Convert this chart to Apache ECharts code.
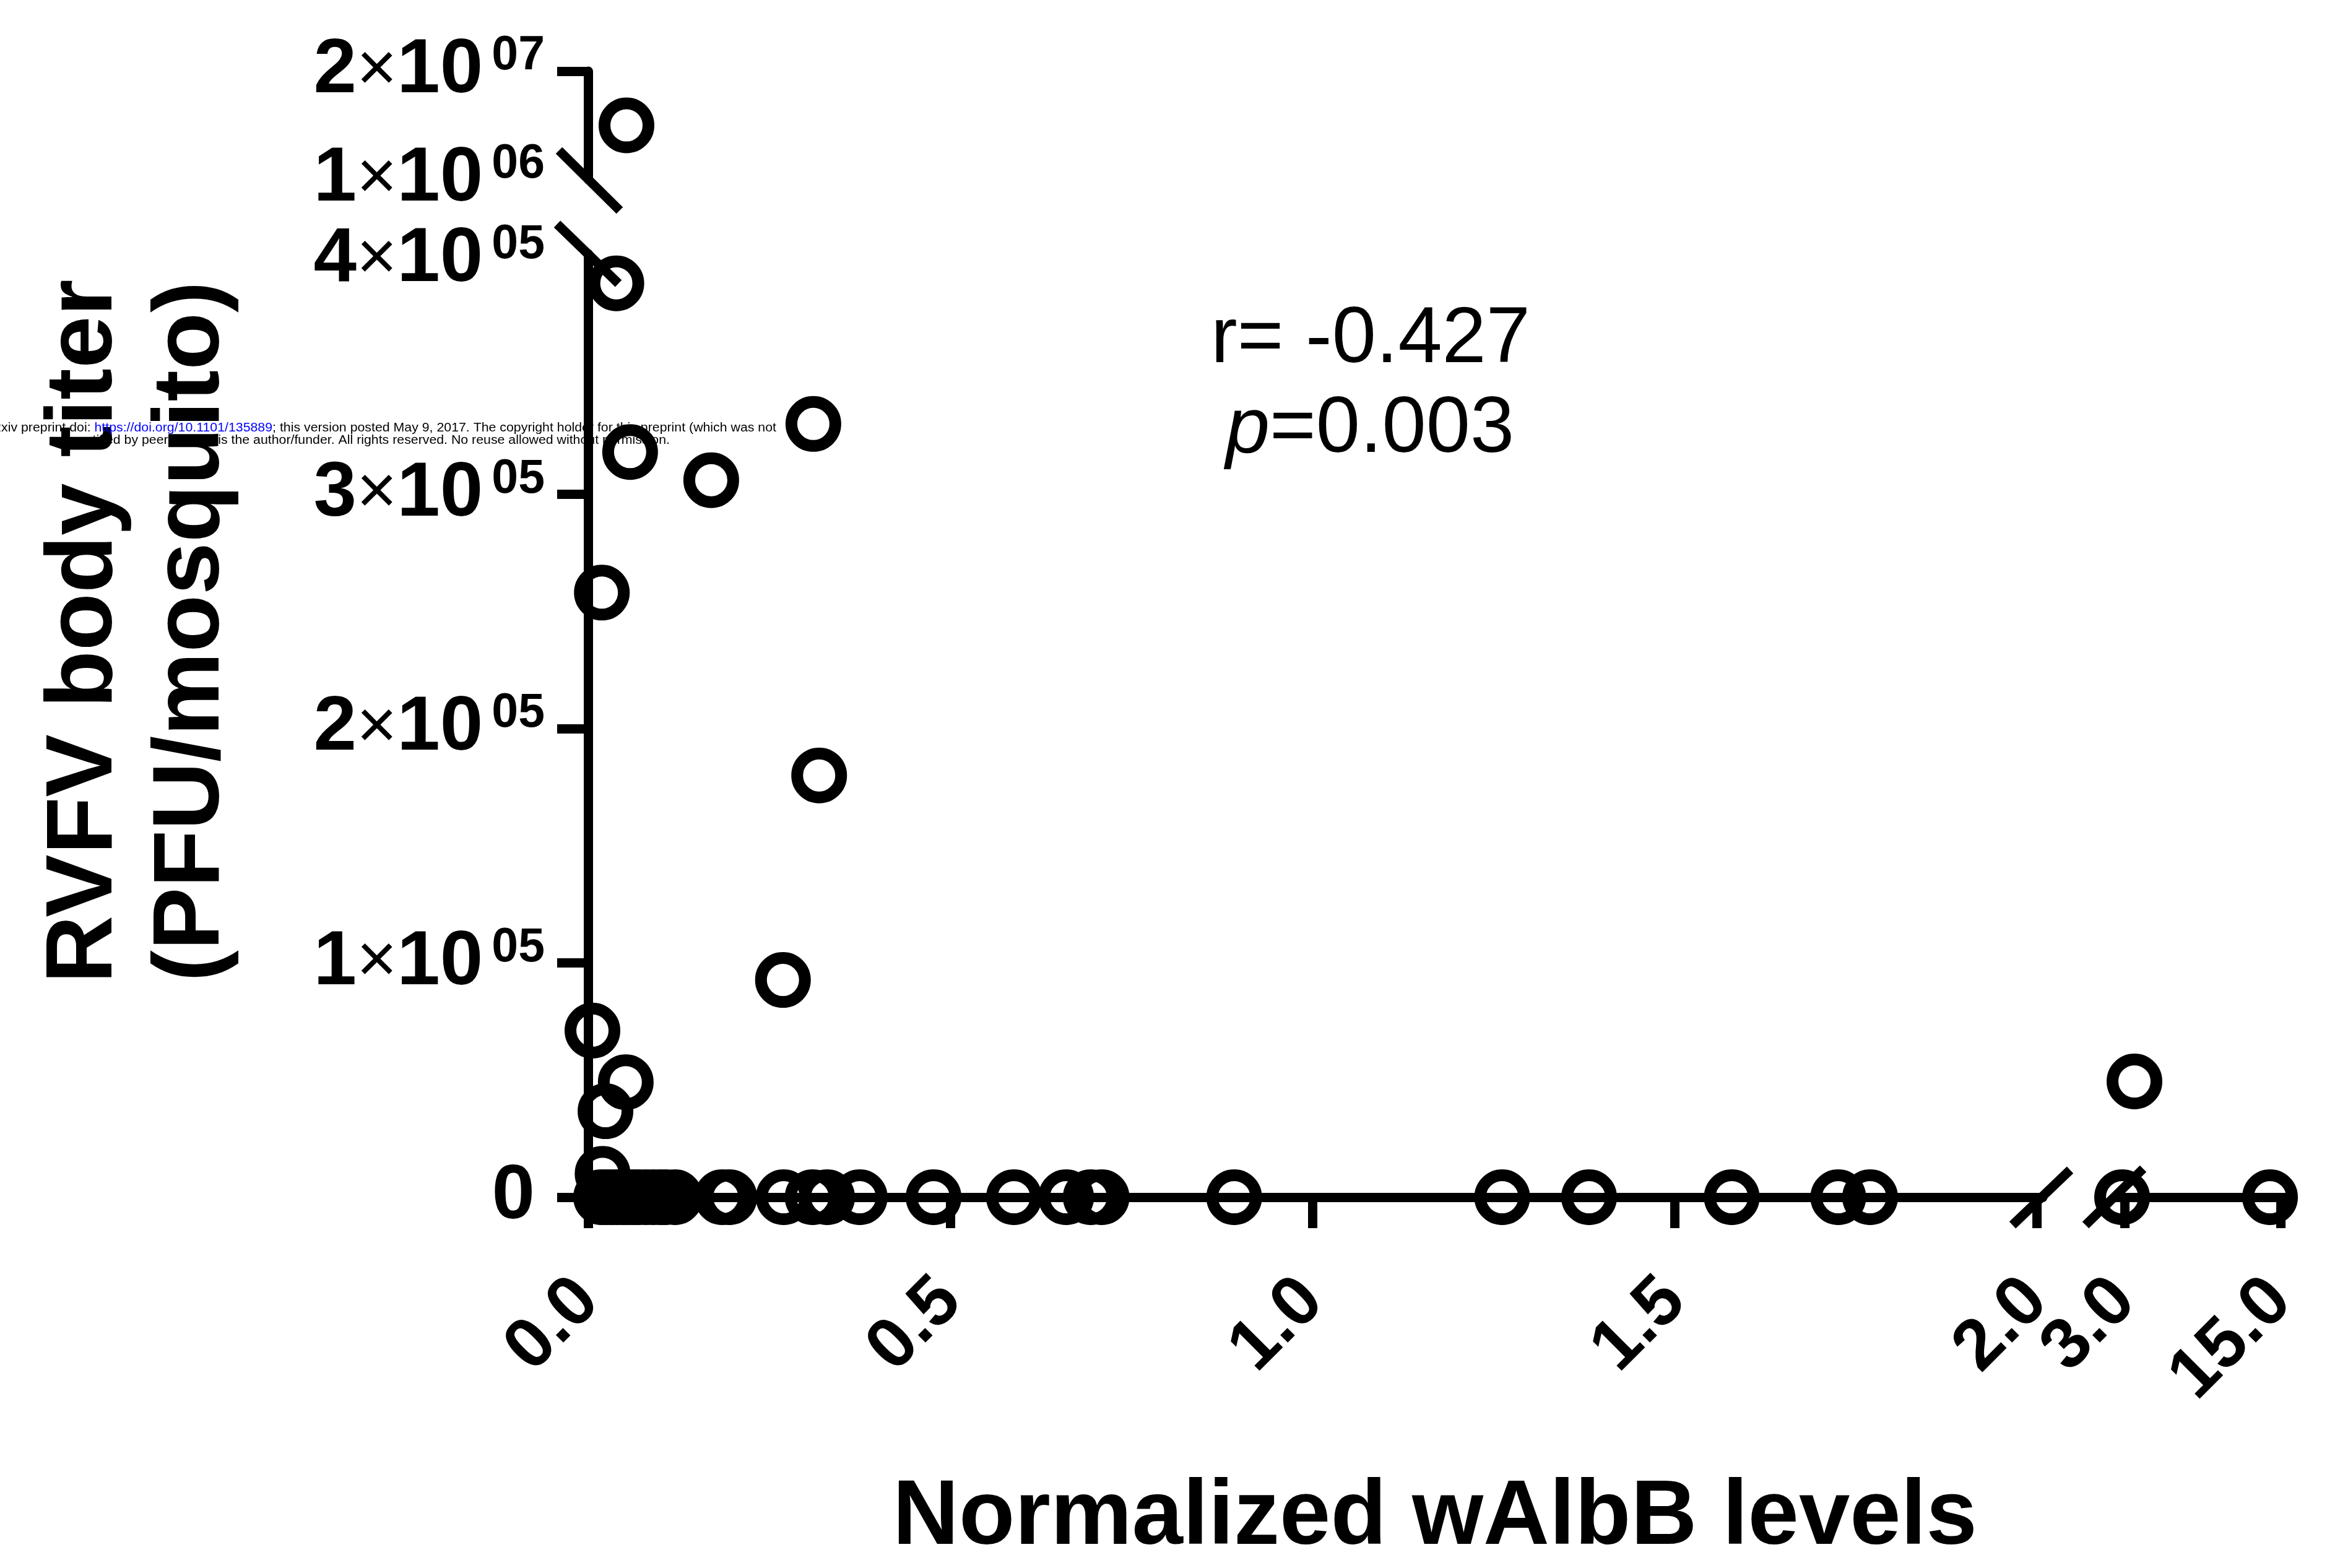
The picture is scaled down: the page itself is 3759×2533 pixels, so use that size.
<!DOCTYPE html>
<html>
<head>
<meta charset="utf-8">
<script src="https://cdn.jsdelivr.net/npm/echarts@6/dist/echarts.min.js"></script>
<style>
html,body{margin:0;padding:0;background:#fff;}
#chart{width:3759px;height:2533px;}
</style>
</head>
<body>
<div id="chart"></div>
<script>
// ---------------- data ----------------
// points at titer 0 (x = normalized wAlbB level)
const zeroX = [0.018, 0.025, 0.033, 0.040, 0.048, 0.055, 0.063, 0.070, 0.080, 0.090, 0.100, 0.107, 0.120,
               0.185, 0.195, 0.270, 0.310, 0.330, 0.375, 0.477, 0.588, 0.660, 0.694, 0.709, 0.892,
               1.262, 1.382, 1.579, 1.726, 1.770];
// non-zero titers, lower segment (x, titer)
const lowX = [0.039, 0.311, 0.058, 0.170, 0.019, 0.319, 0.269, 0.006, 0.052, 0.024, 0.020];
const lowY = [390000, 330000, 318000, 306000, 258000, 180000, 92700, 71100, 49100, 36700, 10000];
// upper segment (x, titer)
const highX = [0.053];
const highY = [10500000];
// right x segment (x, titer)
const rightX = [2.81, 3.76, 14.19];
const rightY = [0, 49400, 0];

// tick values / labels
const xTicksLeft = [0, 0.5, 1.0, 1.5, 2.0];
const xTicksRight = [3.0, 15.0];
const yTicksLow = [0, 100000, 200000, 300000];
const yLabelsLow = [0, 100000, 200000, 300000, 400000];
const yLabelsHigh = [1000000, 20000000];
const yTicksHigh = [20000000];

const xTitle = 'Normalized wAlbB levels';
const yTitle = 'RVFV body titer\n(PFU/mosquito)';
const rText = 'r= -0.427';
const pText = '=0.003';
const wmLine1a = 'bioRxiv preprint doi: ';
const wmLink = 'https://doi.org/10.1101/135889';
const wmLine1b = '; this version posted May 9, 2017. The copyright holder for this preprint (which was not';
const wmLine2 = 'certified by peer review) is the author/funder. All rights reserved. No reuse allowed without permission.';

// ---------------- layout ----------------
const FF = '"Liberation Sans", Arial, Helvetica, sans-serif';
const AX = 15;
const lowData = zeroX.map(x => [x, 0]).concat(lowX.map((x, i) => [x, lowY[i]]));
const highData = highX.map((x, i) => [x, highY[i]]);
const rightData = rightX.map((x, i) => [x, rightY[i]]);

function yFmt(v) {
  if (v === 0) return '{z|0}';
  const e = Math.floor(Math.log10(v) + 1e-9);
  const m = Math.round(v / Math.pow(10, e));
  return '{b|' + m + '}{x|\u00d7}{b|10}{s|' + String(e).padStart(2, '0') + '}';
}
const yRich = {
  b: {fontSize: 125, fontWeight: 'bold', fontFamily: FF, color: '#000', lineHeight: 125},
  x: {fontSize: 112, fontWeight: 'normal', fontFamily: FF, color: '#000', lineHeight: 112},
  s: {fontSize: 77, fontWeight: 'bold', fontFamily: FF, color: '#000', lineHeight: 77, verticalAlign: 'top', padding: [0, 0, 0, 14]},
  z: {fontSize: 125, fontWeight: 'bold', fontFamily: FF, color: '#000', lineHeight: 125, padding: [0, 16, 0, 0]}
};
const lineStyle = {color: '#000', width: AX};

function xAxisCfg(grid, min, max, ticks, show) {
  return {
    type: 'value', gridIndex: grid, min: min, max: max, show: show,
    axisLine: {show: true, onZero: false, lineStyle: lineStyle},
    axisTick: {show: true, customValues: ticks, length: 50, lineStyle: lineStyle},
    axisLabel: {show: true, customValues: ticks, rotate: 45, margin: 150, fontSize: 115, fontWeight: 'bold',
                fontFamily: FF, color: '#000', formatter: v => v.toFixed(1)},
    splitLine: {show: false}
  };
}
function yAxisCfg(grid, min, max, ticks, labels, show) {
  return {
    type: 'value', gridIndex: grid, min: min, max: max, show: show,
    axisLine: {show: true, onZero: false, lineStyle: lineStyle},
    axisTick: {show: true, customValues: ticks, length: 50, lineStyle: lineStyle},
    axisLabel: {show: true, customValues: labels, margin: 70, formatter: yFmt, rich: yRich},
    splitLine: {show: false}
  };
}
const sym = {
  type: 'scatter', symbol: 'circle', symbolSize: 71, clip: false, silent: true,
  itemStyle: {color: 'rgba(0,0,0,0)', borderColor: '#000', borderWidth: 19, opacity: 1}
};

// watermark scale (narrow font emulation)
const mctx = document.createElement('canvas').getContext('2d');
mctx.font = '20px ' + FF;
const wmScale = 962 / mctx.measureText(wmLine2).width;

const chart = echarts.init(document.getElementById('chart'), null, {renderer: 'canvas'});
chart.setOption({
  backgroundColor: '#fff',
  animation: false,
  grid: [
    {left: 950, top: 410, width: 2350, height: 1524},
    {left: 3418, top: 410, width: 277, height: 1524},
    {left: 950, top: 115, width: 2350, height: 175}
  ],
  xAxis: [
    xAxisCfg(0, 0, 2.0085, xTicksLeft, true),
    xAxisCfg(1, 2.333, 15.524, xTicksRight, true),
    xAxisCfg(2, 0, 2.0085, [], false)
  ],
  yAxis: [
    yAxisCfg(0, 0, 402600, yTicksLow, yLabelsLow, true),
    yAxisCfg(1, 0, 402600, [], [], false),
    yAxisCfg(2, 1000000, 20000000, yTicksHigh, yLabelsHigh, true)
  ],
  series: [
    Object.assign({}, sym, {xAxisIndex: 0, yAxisIndex: 0, data: lowData}),
    Object.assign({}, sym, {xAxisIndex: 1, yAxisIndex: 1, data: rightData}),
    Object.assign({}, sym, {xAxisIndex: 2, yAxisIndex: 2, data: highData})
  ],
  graphic: [
    // axis break marks
    {type: 'line', shape: {x1: 903, y1: 243, x2: 1001, y2: 340}, style: {stroke: '#000', lineWidth: AX}, z: 10},
    {type: 'line', shape: {x1: 900, y1: 362, x2: 999, y2: 458}, style: {stroke: '#000', lineWidth: AX}, z: 10},
    {type: 'line', shape: {x1: 3251, y1: 1979, x2: 3344, y2: 1890}, style: {stroke: '#000', lineWidth: AX}, z: 10},
    {type: 'line', shape: {x1: 3369, y1: 1979, x2: 3462, y2: 1888}, style: {stroke: '#000', lineWidth: AX}, z: 10},
    // axis titles
    {type: 'text', x: 2318, y: 2453, style: {text: xTitle, fontSize: 148, fontWeight: 'bold', fontFamily: FF,
      fill: '#000', align: 'center', verticalAlign: 'middle'}},
    {type: 'text', x: 225, y: 1020, rotation: Math.PI / 2, style: {text: yTitle, fontSize: 152, fontWeight: 'bold',
      fontFamily: FF, fill: '#000', align: 'center', verticalAlign: 'middle', lineHeight: 173}},
    // statistics
    {type: 'text', x: 2214, y: 550, style: {text: rText, fontSize: 128, fontFamily: FF, fill: '#000',
      align: 'center', verticalAlign: 'middle'}},
    {type: 'text', x: 2213, y: 695, style: {text: '{i|p}{n|' + pText + '}', align: 'center', verticalAlign: 'middle',
      rich: {i: {fontSize: 128, fontStyle: 'italic', fontFamily: FF, fill: '#000'},
             n: {fontSize: 128, fontFamily: FF, fill: '#000'}}}},
    // watermark
    {type: 'text', x: 1254, y: 691, scaleX: wmScale, z: 20, style: {
      text: '{k|' + wmLine1a + '}{u|' + wmLink + '}{k|' + wmLine1b + '}', align: 'right', verticalAlign: 'middle',
      rich: {k: {fontSize: 20, fontFamily: FF, fill: '#000'}, u: {fontSize: 20, fontFamily: FF, fill: '#0000ff'}}}},
    {type: 'text', x: 1082, y: 711, scaleX: wmScale, z: 20, style: {text: wmLine2, fontSize: 20, fontFamily: FF,
      fill: '#000', align: 'right', verticalAlign: 'middle'}}
  ]
});
</script>
</body>
</html>
